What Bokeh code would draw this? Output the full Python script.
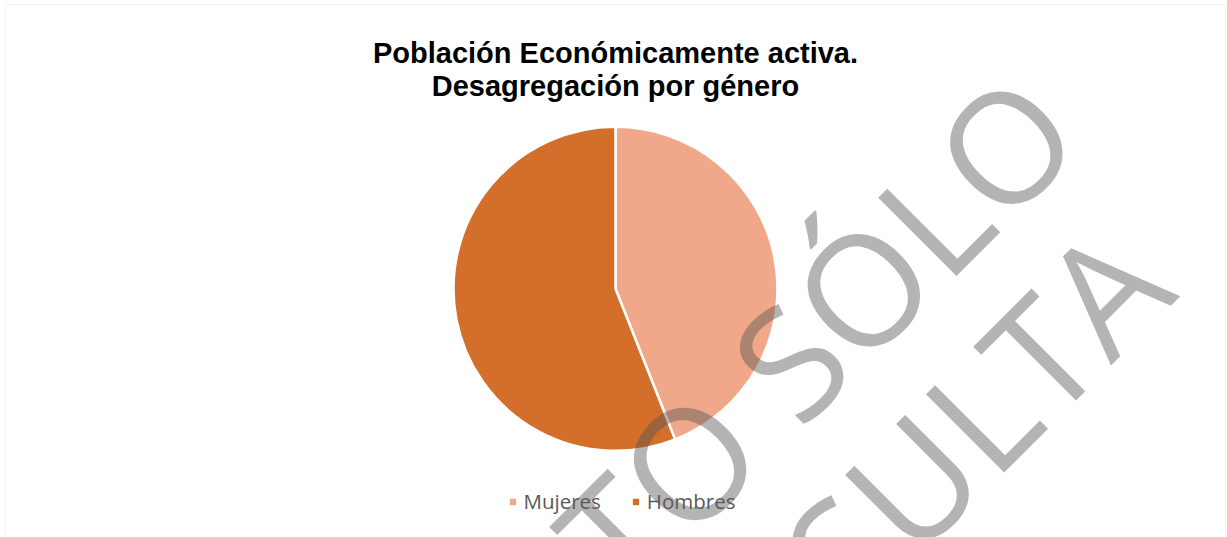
import math
from bokeh.plotting import figure
from bokeh.models import (ColumnDataSource, Range1d, Label, Legend, LegendItem,
                          BoxAnnotation)
from bokeh.embed import file_html
from bokeh.resources import INLINE

# ---- data ----
categories = ["Mujeres", "Hombres"]
values = [44, 56]
colors = ["#F1A88A", "#D36F2B"]
title_lines = ["Población Económicamente activa.", "Desagregación por género"]
watermark_lines = ["DOCUMENTO SÓLO", "PARA CONSULTA"]

W, H = 1227, 537
total = float(sum(values))
starts, ends = [], []
acc = 0.0
for v in values:
    starts.append(math.pi / 2 - 2 * math.pi * acc / total)
    acc += v
    ends.append(math.pi / 2 - 2 * math.pi * acc / total)

src = ColumnDataSource(dict(cat=categories, val=values, start=starts, end=ends, color=colors))

p = figure(width=W, height=H, x_range=Range1d(0, W), y_range=Range1d(0, H),
           output_backend="svg", toolbar_location=None, min_border=0,
           x_axis_type=None, y_axis_type=None, outline_line_color=None,
           background_fill_color="white", border_fill_color="white")
p.xgrid.grid_line_color = None
p.ygrid.grid_line_color = None

# chart border
p.add_layout(BoxAnnotation(left=5, right=1225, top=H - 4, bottom=-30,
                           fill_alpha=0, line_color="#D9D9D9", line_width=1,
                           level="underlay"))

cx, cy, r = 615, H - 288.3, 162
pie = p.wedge(x=cx, y=cy, radius=r, start_angle="start", end_angle="end",
              direction="clock", fill_color="color", line_color="white",
              line_width=2.5, source=src)

# title
for i, t in enumerate(title_lines):
    p.add_layout(Label(x=615, y=H - (52 + 33 * i), text=t, text_align="center",
                       text_baseline="alphabetic", text_font="Liberation Sans",
                       text_font_style="bold", text_font_size="29px",
                       text_color="#000000"))

# legend
items = [LegendItem(label=c, renderers=[pie], index=i) for i, c in enumerate(categories)]
legend = Legend(items=items, orientation="horizontal", location=(506.5, 22),
                glyph_width=11, glyph_height=11, label_standoff=6, spacing=29,
                padding=0, margin=0, border_line_color=None,
                background_fill_alpha=0, label_text_font="Open Sans",
                label_text_font_size="20.5px", label_text_color="#595959")
p.add_layout(legend)

# watermark
wm_anchor = [(1045, 101), (1137, 253)]
for t, (x, y) in zip(watermark_lines, wm_anchor):
    p.add_layout(Label(x=x, y=H - y, text=t, angle=math.pi / 4, text_align="right",
                       text_baseline="alphabetic", text_font="Open Sans",
                       text_font_size="155px", text_color="#505050",
                       text_alpha=0.43, level="overlay"))

open("out.html", "w").write(file_html(p, INLINE))
